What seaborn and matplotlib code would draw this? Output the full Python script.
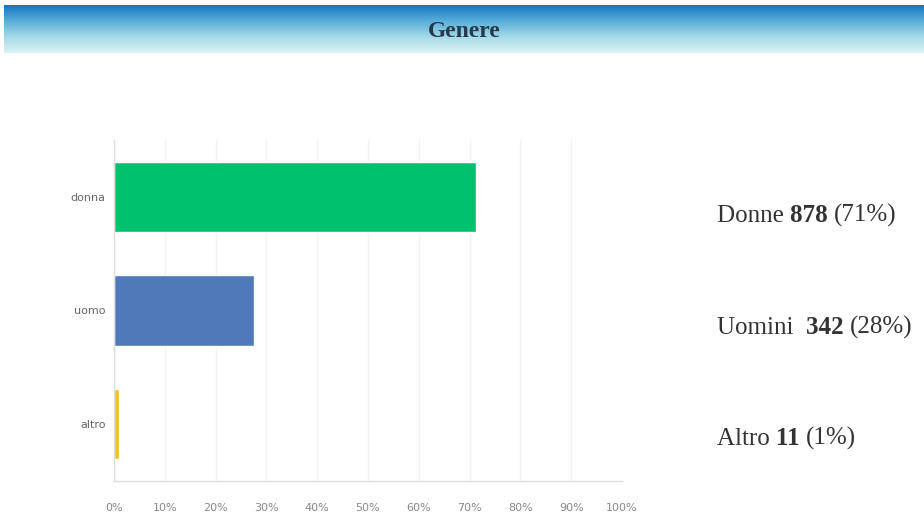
import numpy as np
import pandas as pd
import matplotlib
matplotlib.use("Agg")
import matplotlib.pyplot as plt
import seaborn as sns
from matplotlib.colors import LinearSegmentedColormap

categories = ["donna", "uomo", "altro"]
percentages = [71.3, 27.6, 0.9]
bar_colors = ["#00c26e", "#4f79b8", "#f0c020"]
summary_names = ["Donne", "Uomini ", "Altro"]
summary_counts = ["878", "342", "11"]
summary_pcts = ["(71%)", "(28%)", "(1%)"]
xticks = [0, 10, 20, 30, 40, 50, 60, 70, 80, 90, 100]
title = "Genere"

sns.set_theme(style="white")
plt.rcParams['font.family'] = ['DejaVu Sans']

fig = plt.figure(figsize=(9.24, 5.16), dpi=100)

# header gradient band
hax = fig.add_axes([0.004, 1 - 53/516, 0.996, 48/516])
grad = np.linspace(0, 1, 100).reshape(-1, 1)
cmap = LinearSegmentedColormap.from_list("hdr", ["#1576c0", "#5aaed8", "#a6dae6", "#d8f2f3"])
hax.imshow(grad, aspect="auto", cmap=cmap, extent=[0, 1, 0, 1])
hax.set_axis_off()
hax.text(0.5, 0.45, title, ha="center", va="center", fontsize=17, fontweight="bold",
         color="#263a4e", family=["Liberation Serif", "DejaVu Serif"])

ax = fig.add_axes([114/924, 1 - 481/516, 508/924, (481-140)/516])
df = pd.DataFrame({"cat": categories, "pct": percentages})
sns.barplot(data=df, x="pct", y="cat", hue="cat", palette=bar_colors, order=categories,
            hue_order=categories, legend=False, width=0.62, ax=ax, saturation=1)
ax.set_xlim(0, 100)
ax.set_xticks(xticks)
ax.set_xticklabels([f"{t}%" for t in xticks], fontsize=8, color="#888888")
ax.tick_params(axis="y", labelsize=8, labelcolor="#666666", length=0, pad=6)
ax.tick_params(axis="x", length=0, pad=16)
ax.set_xlabel("")
ax.set_ylabel("")
ax.grid(axis="x", color="#f2f2f2", linewidth=1)
ax.set_axisbelow(True)
for s in ["top", "right"]:
    ax.spines[s].set_visible(False)
for s in ["left", "bottom"]:
    ax.spines[s].set_color("#dddddd")
    ax.spines[s].set_linewidth(1)

# right-hand summary text
fig.canvas.draw()
renderer = fig.canvas.get_renderer()
serif = ["Liberation Serif", "DejaVu Serif"]
ys = [1 - 222/516, 1 - 334/516, 1 - 445/516]
for name, cnt, pc, y in zip(summary_names, summary_counts, summary_pcts, ys):
    x = 717/924
    for txt, w in [(name + " ", "normal"), (cnt + " ", "bold"), (pc, "normal")]:
        t = fig.text(x, y, txt, fontsize=18, fontweight=w, color="#333333",
                     family=serif, va="baseline", ha="left")
        bb = t.get_window_extent(renderer=renderer)
        x = x + bb.width / fig.bbox.width

fig.savefig("out.png", dpi=100, facecolor="white")
